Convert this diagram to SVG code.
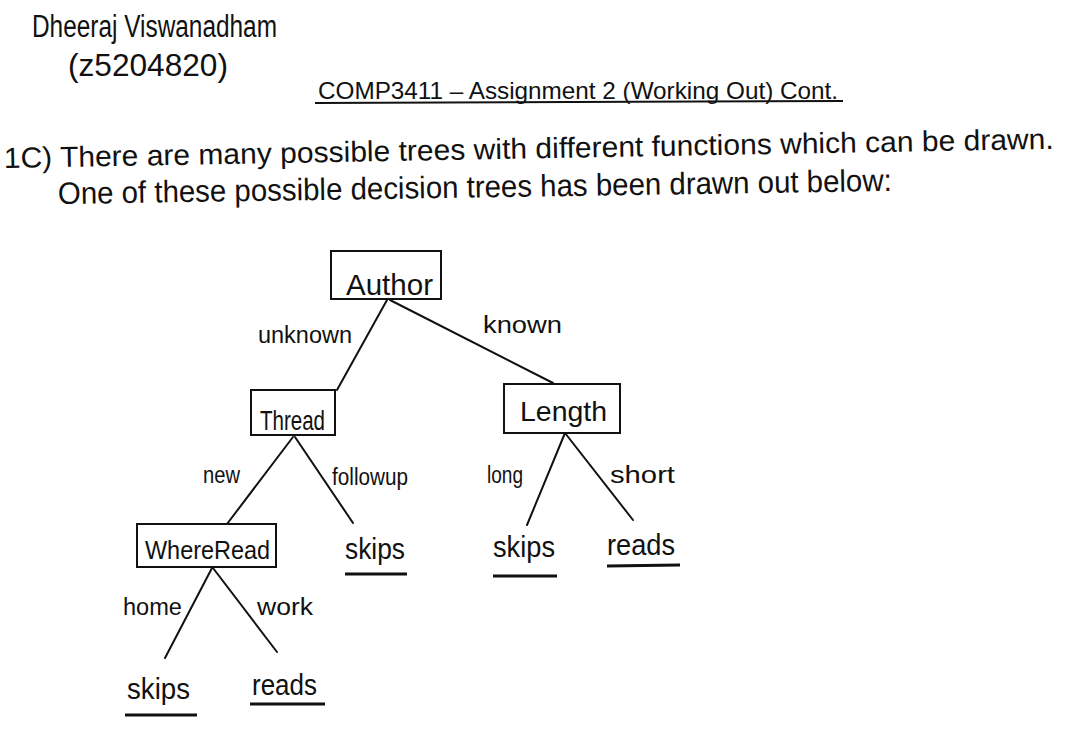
<svg xmlns="http://www.w3.org/2000/svg" width="1079" height="736" viewBox="0 0 1079 736">
<style>
text{font-family:"Liberation Sans","DejaVu Sans",sans-serif;fill:#111;}
.hd{font-size:31px;}
.title{font-size:24px;}
.body{font-size:31px;}
.node rect{fill:none;stroke:#111;stroke-width:2;}
.nl{font-size:30px;}
.el{font-size:23px;}
.leaf{font-size:29px;}
.ul{stroke:#111;stroke-width:3;}
#connectors line{stroke:#111;stroke-width:2;stroke-linecap:round;}
</style>
<rect width="1079" height="736" fill="#fff"/>
<g id="header">
<text class="hd" x="32" y="37" textLength="245" lengthAdjust="spacingAndGlyphs">Dheeraj Viswanadham</text>
<text class="hd" x="68" y="76" textLength="160" lengthAdjust="spacingAndGlyphs">(z5204820)</text>
<text class="title" x="318" y="99" textLength="520" lengthAdjust="spacingAndGlyphs">COMP3411 – Assignment 2 (Working Out) Cont.</text>
<line class="ul" x1="315" y1="103" x2="843" y2="101" style="stroke-width:2"/>
<text class="body" x="4" y="168" transform="rotate(-1.05 4 168)" textLength="1050" lengthAdjust="spacingAndGlyphs" style="font-size:29px">1C) There are many possible trees with different functions which can be drawn.</text>
<text class="body" x="58" y="204" transform="rotate(-0.9 58 204)" textLength="834" lengthAdjust="spacingAndGlyphs">One of these possible decision trees has been drawn out below:</text>
</g>
<g id="connectors">
<line x1="387" y1="300" x2="337" y2="390"/>
<line x1="390" y1="300" x2="553" y2="383"/>
<line x1="293" y1="437" x2="227" y2="524"/>
<line x1="295" y1="437" x2="353" y2="523"/>
<line x1="565" y1="433" x2="527" y2="525"/>
<line x1="565" y1="433" x2="633" y2="520"/>
<line x1="212" y1="568" x2="165" y2="658"/>
<line x1="213" y1="568" x2="277" y2="652"/>
</g>
<g id="edge-labels">
<text class="el" x="258" y="343" textLength="94" lengthAdjust="spacingAndGlyphs">unknown</text>
<text class="el" x="483" y="333" textLength="79" lengthAdjust="spacingAndGlyphs">known</text>
<text class="el" x="203" y="483" textLength="37" lengthAdjust="spacingAndGlyphs">new</text>
<text class="el" x="332" y="485" textLength="76" lengthAdjust="spacingAndGlyphs">followup</text>
<text class="el" x="487" y="483" textLength="36" lengthAdjust="spacingAndGlyphs">long</text>
<text class="el" x="610" y="483" textLength="65" lengthAdjust="spacingAndGlyphs">short</text>
<text class="el" x="123" y="615" textLength="59" lengthAdjust="spacingAndGlyphs">home</text>
<text class="el" x="257" y="615" textLength="56" lengthAdjust="spacingAndGlyphs">work</text>
</g>
<g id="node-author" class="node">
<rect x="331" y="251" width="110" height="48"/>
<text class="nl" x="346" y="295" textLength="87" lengthAdjust="spacingAndGlyphs">Author</text>
</g>
<g id="node-thread" class="node">
<rect x="251" y="390" width="84" height="45"/>
<text class="nl" x="260" y="430" textLength="65" lengthAdjust="spacingAndGlyphs" style="font-size:28px">Thread</text>
</g>
<g id="node-length" class="node">
<rect x="504" y="384" width="116" height="49"/>
<text class="nl" x="520" y="421" textLength="87" lengthAdjust="spacingAndGlyphs" style="font-size:28px">Length</text>
</g>
<g id="node-whereread" class="node">
<rect x="137" y="524" width="139" height="43"/>
<text class="nl" x="145" y="559" textLength="125" lengthAdjust="spacingAndGlyphs" style="font-size:26px">WhereRead</text>
</g>
<g id="leaf-skips-1">
<text class="leaf" x="345" y="559" textLength="60" lengthAdjust="spacingAndGlyphs">skips</text>
<line class="ul" x1="345" y1="574" x2="407" y2="574"/>
</g>
<g id="leaf-skips-2">
<text class="leaf" x="493" y="557" textLength="62" lengthAdjust="spacingAndGlyphs">skips</text>
<line class="ul" x1="493" y1="576" x2="557" y2="576"/>
</g>
<g id="leaf-reads-1">
<text class="leaf" x="607" y="555" textLength="68" lengthAdjust="spacingAndGlyphs">reads</text>
<line class="ul" x1="607" y1="566" x2="680" y2="565"/>
</g>
<g id="leaf-skips-3">
<text class="leaf" x="127" y="699" textLength="63" lengthAdjust="spacingAndGlyphs">skips</text>
<line class="ul" x1="125" y1="715" x2="197" y2="715"/>
</g>
<g id="leaf-reads-2">
<text class="leaf" x="252" y="695" textLength="65" lengthAdjust="spacingAndGlyphs">reads</text>
<line class="ul" x1="250" y1="704" x2="325" y2="704"/>
</g>
</svg>
